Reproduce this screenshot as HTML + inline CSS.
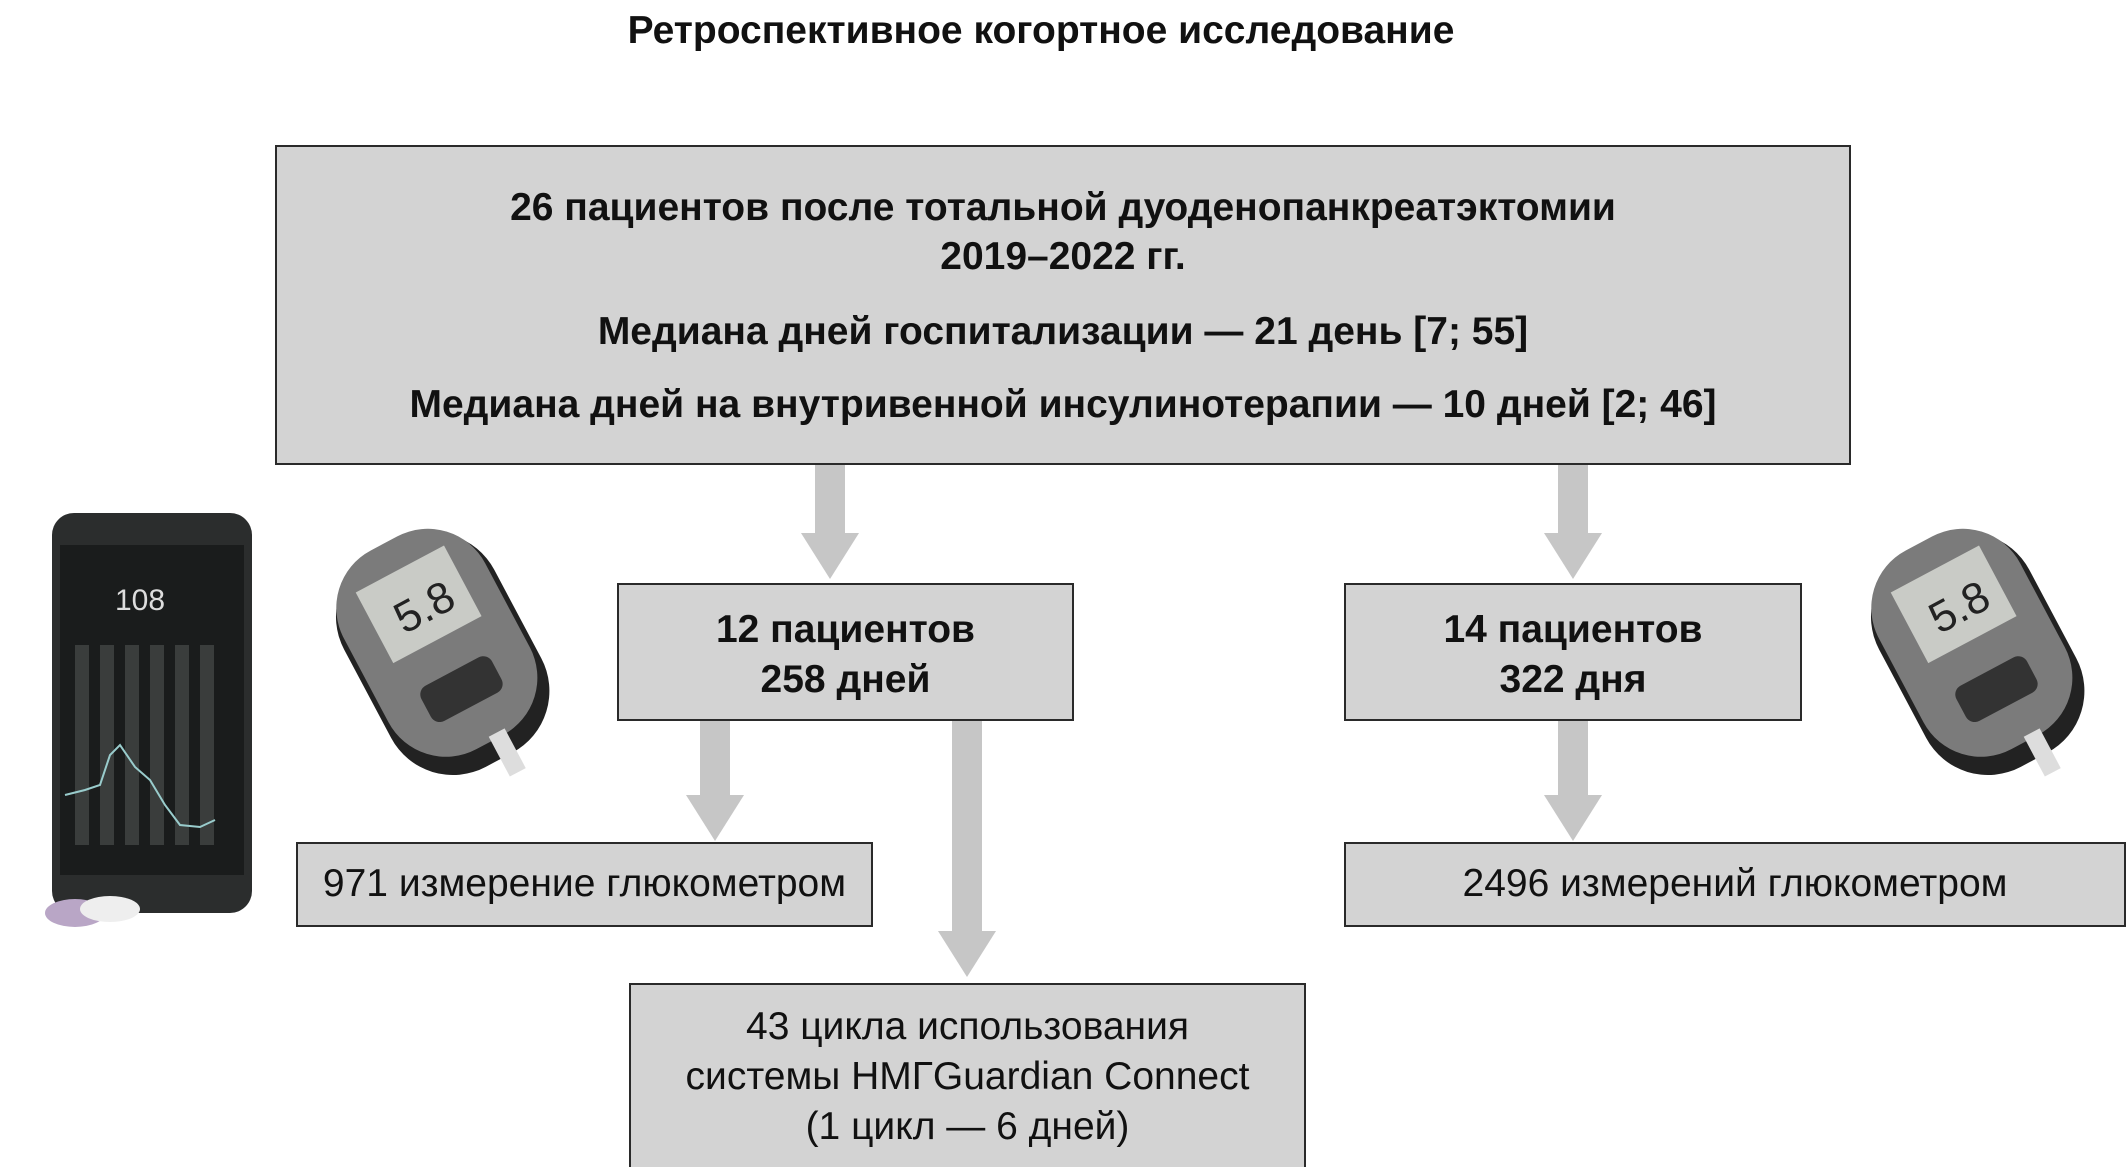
<!DOCTYPE html>
<html><head><meta charset="utf-8"><style>
body{margin:0;width:2126px;height:1167px;background:#fff;position:relative;overflow:hidden;font-family:"Liberation Sans",sans-serif;color:#111}
.box{position:absolute;background:#d3d3d3;border:2.5px solid #2a2a2a;box-sizing:border-box}
.t{position:absolute;left:0;right:0;text-align:center;white-space:nowrap}
.b{font-weight:bold}
.ar{position:absolute;background:#c6c6c6}
.hd{position:absolute;width:0;height:0;border-left:29px solid transparent;border-right:29px solid transparent;border-top:46px solid #c6c6c6}
</style></head><body>
<div class="t b" style="top:9px;font-size:39px;left:0;width:2082px">Ретроспективное когортное исследование</div>

<div class="box" style="left:275px;top:145px;width:1576px;height:320px">
<div class="t b" style="top:39px;font-size:39px">26 пациентов после тотальной дуоденопанкреатэктомии</div>
<div class="t b" style="top:88px;font-size:39px">2019–2022 гг.</div>
<div class="t b" style="top:163px;font-size:39px">Медиана дней госпитализации — 21 день [7; 55]</div>
<div class="t b" style="top:236px;font-size:39px">Медиана дней на внутривенной инсулинотерапии — 10 дней [2; 46]</div>
</div>

<div class="ar" style="left:815px;top:465px;width:30px;height:70px"></div><div class="hd" style="left:801px;top:533px"></div>
<div class="ar" style="left:1558px;top:465px;width:30px;height:70px"></div><div class="hd" style="left:1544px;top:533px"></div>

<div class="box" style="left:617px;top:583px;width:457px;height:138px">
<div class="t b" style="top:23px;font-size:39px">12 пациентов</div>
<div class="t b" style="top:73px;font-size:39px">258 дней</div>
</div>
<div class="box" style="left:1344px;top:583px;width:458px;height:138px">
<div class="t b" style="top:23px;font-size:39px">14 пациентов</div>
<div class="t b" style="top:73px;font-size:39px">322 дня</div>
</div>

<div class="ar" style="left:700px;top:721px;width:30px;height:76px"></div><div class="hd" style="left:686px;top:795px"></div>
<div class="ar" style="left:952px;top:721px;width:30px;height:212px"></div><div class="hd" style="left:938px;top:931px"></div>
<div class="ar" style="left:1558px;top:721px;width:30px;height:76px"></div><div class="hd" style="left:1544px;top:795px"></div>

<div class="box" style="left:296px;top:842px;width:577px;height:85px">
<div class="t" style="top:18px;font-size:39px">971 измерение глюкометром</div></div>
<div class="box" style="left:1344px;top:842px;width:782px;height:85px">
<div class="t" style="top:18px;font-size:39px">2496 измерений глюкометром</div></div>
<div class="box" style="left:629px;top:983px;width:677px;height:184px;border-bottom:none">
<div class="t" style="top:20px;font-size:39px">43 цикла использования</div>
<div class="t" style="top:70px;font-size:39px">системы НМГGuardian Connect</div>
<div class="t" style="top:120px;font-size:39px">(1 цикл — 6 дней)</div></div>

<svg style="position:absolute;left:40px;top:505px" width="220" height="430">
<rect x="12" y="8" width="200" height="400" rx="22" fill="#2b2d2d"/>
<rect x="20" y="40" width="184" height="330" fill="#1a1c1c"/>
<text x="75" y="105" fill="#ddd" font-size="30" font-family="Liberation Sans">108</text>
<g fill="#3a3d3c"><rect x="35" y="140" width="14" height="200"/><rect x="60" y="140" width="14" height="200"/><rect x="85" y="140" width="14" height="200"/><rect x="110" y="140" width="14" height="200"/><rect x="135" y="140" width="14" height="200"/><rect x="160" y="140" width="14" height="200"/></g>
<polyline points="25,290 45,285 60,280 70,250 80,240 95,262 110,275 125,300 140,320 160,322 175,315" fill="none" stroke="#9cc" stroke-width="2"/>
<ellipse cx="35" cy="408" rx="30" ry="14" fill="#b9a6c6"/><ellipse cx="70" cy="404" rx="30" ry="13" fill="#eee"/>
</svg>
<svg style="position:absolute;left:298px;top:515px" width="290" height="265">
<g transform="rotate(-28 140 130)"><rect x="55" y="20" width="170" height="240" rx="70" fill="#222"/><rect x="60" y="15" width="160" height="225" rx="65" fill="#7b7b7b"/>
<rect x="92" y="45" width="100" height="80" fill="#c9cbc6"/><text x="115" y="105" font-size="44" font-family="Liberation Sans" fill="#222">5.8</text>
<rect x="100" y="160" width="80" height="40" rx="10" fill="#333"/></g>
<rect x="200" y="215" width="18" height="45" fill="#ddd" transform="rotate(-28 209 237)"/>
</svg>
<svg style="position:absolute;left:1833px;top:515px" width="290" height="265">
<g transform="rotate(-28 140 130)"><rect x="55" y="20" width="170" height="240" rx="70" fill="#222"/><rect x="60" y="15" width="160" height="225" rx="65" fill="#7b7b7b"/>
<rect x="92" y="45" width="100" height="80" fill="#c9cbc6"/><text x="115" y="105" font-size="44" font-family="Liberation Sans" fill="#222">5.8</text>
<rect x="100" y="160" width="80" height="40" rx="10" fill="#333"/></g>
<rect x="200" y="215" width="18" height="45" fill="#ddd" transform="rotate(-28 209 237)"/>
</svg>
</body></html>
